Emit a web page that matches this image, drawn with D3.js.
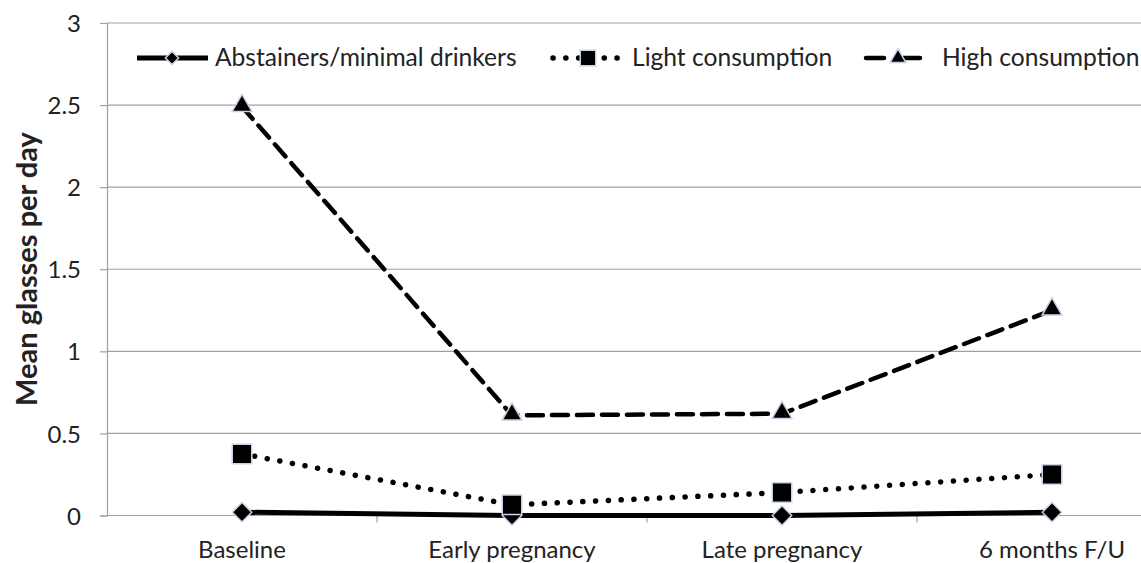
<!DOCTYPE html>
<html>
<head>
<meta charset="utf-8">
<script src="https://cdn.jsdelivr.net/npm/d3@7"></script>
<style>
  html, body { margin: 0; padding: 0; background: #fff; }
  svg { display: block; }
  text { font-family: Lato, "Open Sans", sans-serif; fill: #222; }
</style>
</head>
<body>
<svg id="chart" width="1141" height="563"></svg>
<script>
// Time points and mean glasses per day for each consumption group
const timepoints = ["Baseline", "Early pregnancy", "Late pregnancy", "6 months F/U"];
const abstainers = [0.02, 0.0, 0.0, 0.02];
const light = [0.375, 0.065, 0.14, 0.25];
const high = [2.49, 0.61, 0.62, 1.25];
const yTicks = [0, 0.5, 1, 1.5, 2, 2.5, 3];
const seriesNames = ["Abstainers/minimal drinkers", "Light consumption", "High consumption"];

const svg = d3.select("#chart");
const plot = { left: 107, right: 1187, top: 23, bottom: 515.5 };
const FONT = 24;
const LEGEND_FONT = 24.6;
const GRID = "#a0a0a0";

const x = d3.scaleBand().domain(timepoints).range([plot.left, plot.right]).padding(0);
const y = d3.scaleLinear().domain([0, 3]).range([plot.bottom, plot.top]);

// Horizontal gridlines
svg.append("g")
  .selectAll("line")
  .data(yTicks)
  .join("line")
  .attr("x1", plot.left).attr("x2", plot.right)
  .attr("y1", d => y(d)).attr("y2", d => y(d))
  .attr("stroke", GRID).attr("stroke-width", 1.2);

// Y axis
const yAxis = svg.append("g")
  .attr("transform", `translate(${plot.left},0)`)
  .call(d3.axisLeft(y).tickValues(yTicks).tickSize(7).tickPadding(19)
    .tickFormat(d => String(d)));
yAxis.select(".domain").attr("stroke", GRID).attr("stroke-width", 1.2);
yAxis.selectAll(".tick line").attr("stroke", GRID).attr("stroke-width", 1.2);
yAxis.selectAll(".tick text").attr("font-size", FONT).attr("fill", "#222")
  .attr("dy", "0.36em")
  .style("font-family", "Lato, 'Open Sans', sans-serif");

// X axis: ticks between categories
const xAxisG = svg.append("g").attr("transform", `translate(0,${plot.bottom})`);
const boundaries = timepoints.slice(1).map(t => x(t));
xAxisG.selectAll("line.tk")
  .data(boundaries)
  .join("line")
  .attr("class", "tk")
  .attr("x1", d => d).attr("x2", d => d)
  .attr("y1", 0).attr("y2", 7)
  .attr("stroke", GRID).attr("stroke-width", 1.2);
xAxisG.selectAll("text")
  .data(timepoints)
  .join("text")
  .attr("x", d => x(d) + x.bandwidth() / 2)
  .attr("y", 42)
  .attr("text-anchor", "middle")
  .attr("font-size", FONT)
  .text(d => d);

// Y axis title
svg.append("text")
  .attr("transform", "translate(37,269) rotate(-90)")
  .attr("text-anchor", "middle")
  .attr("font-size", 29)
  .attr("font-weight", "bold")
  .attr("fill", "#111")
  .text("Mean glasses per day");

const cx = d => x(d) + x.bandwidth() / 2;
const line = d3.line().x(d => cx(d.t)).y(d => y(d.v));

const styles = [
  { values: abstainers, dash: null, width: 5, cap: "butt", marker: "diamond" },
  { values: light, dash: "0.1 12.7", width: 5.5, cap: "round", marker: "square" },
  { values: high, dash: "16 9", width: 4.5, cap: "round", marker: "triangle" }
];

const symbolType = { diamond: d3.symbolDiamond2, square: d3.symbolSquare, triangle: d3.symbolTriangle };
const plotSize = { diamond: 240, square: 380, triangle: 170 };
const legendSize = { diamond: 110, square: 240, triangle: 110 };
const markerOffset = { diamond: 0, square: 0, triangle: 1 };

styles.forEach(s => {
  const pts = timepoints.map((t, i) => ({ t, v: s.values[i] }));
  svg.append("path")
    .datum(pts)
    .attr("d", line)
    .attr("fill", "none")
    .attr("stroke", "#000")
    .attr("stroke-width", s.width)
    .attr("stroke-linecap", s.cap)
    .attr("stroke-dasharray", s.dash);
});

styles.forEach(s => {
  const pts = timepoints.map((t, i) => ({ t, v: s.values[i] }));
  svg.append("g")
    .selectAll("path")
    .data(pts)
    .join("path")
    .attr("d", d3.symbol().type(symbolType[s.marker]).size(plotSize[s.marker]))
    .attr("transform", d => `translate(${cx(d.t)},${y(d.v) - markerOffset[s.marker]})`)
    .attr("fill", "#000")
    .attr("stroke", "#c9d2e6")
    .attr("stroke-width", 1.5);
});

// Legend
const legendItems = [
  { x1: 137, x2: 208, mx: 172, tx: 215, dash: null, s: styles[0] },
  { x1: 553, x2: 623, mx: 588, tx: 632, dash: "0.1 12.7", s: styles[1] },
  { x1: 866, x2: 921, mx: 898, tx: 942, dash: "18 18", s: styles[2] }
];
const legendY = 58;
const lg = svg.append("g");
legendItems.forEach((it, i) => {
  lg.append("line")
    .attr("x1", it.x1).attr("x2", it.x2)
    .attr("y1", legendY).attr("y2", legendY)
    .attr("stroke", "#000")
    .attr("stroke-width", it.s.width)
    .attr("stroke-linecap", it.s.cap)
    .attr("stroke-dasharray", it.dash);
  lg.append("path")
    .attr("d", d3.symbol().type(symbolType[it.s.marker]).size(legendSize[it.s.marker]))
    .attr("transform", `translate(${it.mx},${legendY})`)
    .attr("fill", "#000")
    .attr("stroke", "#c9d2e6")
    .attr("stroke-width", 1.5);
  lg.append("text")
    .attr("x", it.tx)
    .attr("y", legendY + 7.5)
    .attr("font-size", LEGEND_FONT)
    .text(seriesNames[i]);
});
</script>
</body>
</html>
